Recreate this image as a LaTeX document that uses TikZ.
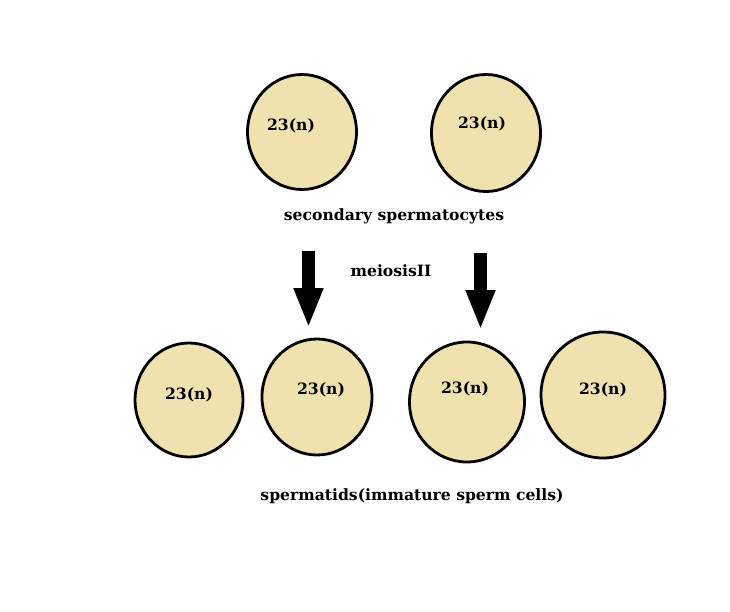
\documentclass[tikz,border=0pt]{standalone}
\usepackage{fontspec}
\setmainfont{DejaVu Serif}
\usetikzlibrary{shapes.geometric,arrows.meta}
\definecolor{cellfill}{RGB}{239,226,175}
\begin{document}
\begin{tikzpicture}[x=1pt,y=-1pt,
  cell/.style={ellipse,draw=black,line width=2.8pt,fill=cellfill,inner sep=0pt},
  lbl/.style={font=\fontsize{15.6}{18}\selectfont\bfseries,inner sep=0pt},
  bigarrow/.style={line width=13pt,-{Triangle[width=27pt,length=40pt]}}]
\useasboundingbox (0,0) rectangle (730,612);
% top cells
\node[cell,minimum width=109pt,minimum height=115pt] (t1) at (302,132) {};
\node[cell,minimum width=109pt,minimum height=117pt] (t2) at (486,133) {};
\node[lbl] at (291,126) {23(n)};
\node[lbl] at (482,124) {23(n)};
\node[lbl] (sec) at (394,216) {secondary spermatocytes};
% arrows
\coordinate (a1s) at (308.5,251);
\coordinate (a1e) at (308.5,328);
\coordinate (a2s) at (480.5,253);
\coordinate (a2e) at (480.5,330);
\draw[bigarrow] (a1s) -- (a1e);
\draw[bigarrow] (a2s) -- (a2e);
\node[lbl] (mei) at (391,271) {meiosisII};
% bottom cells
\node[cell,minimum width=108pt,minimum height=114pt] (b1) at (189,400) {};
\node[cell,minimum width=110pt,minimum height=116pt] (b2) at (317,397) {};
\node[cell,minimum width=115pt,minimum height=120pt] (b3) at (467,402) {};
\node[cell,minimum width=124pt,minimum height=126pt] (b4) at (603,395) {};
\node[lbl] at (189,395) {23(n)};
\node[lbl] at (321,390) {23(n)};
\node[lbl] at (465,389) {23(n)};
\node[lbl] at (603,390) {23(n)};
\node[lbl] (spt) at (412,496) {spermatids(immature sperm cells)};
\end{tikzpicture}
\end{document}
